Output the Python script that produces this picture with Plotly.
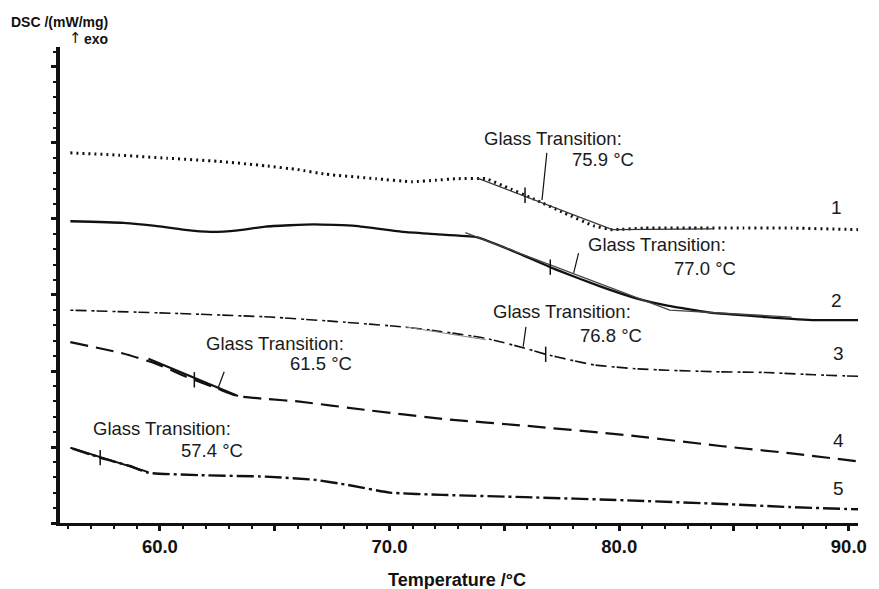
import numpy as np
import plotly.graph_objects as go

# ---------------- data ----------------
# temperature axis in degC, DSC signal in arbitrary units (1 unit = 1 major y tick)
t1 = [56.1, 58.2, 60.3, 62.5, 64.6, 66.0, 67.2, 69.4, 71.0, 72.0, 72.9, 74.2, 75.0, 76.3, 77.6, 78.9, 79.7, 81.1, 83.2, 85.4, 87.5, 90.4]
dsc1 = [4.87, 4.84, 4.80, 4.76, 4.70, 4.65, 4.59, 4.53, 4.49, 4.51, 4.53, 4.53, 4.43, 4.26, 4.08, 3.91, 3.86, 3.88, 3.88, 3.88, 3.88, 3.86]

t2 = [56.1, 58.4, 59.8, 61.0, 62.2, 63.4, 64.6, 66.7, 68.5, 70.6, 72.0, 73.8, 75.6, 77.2, 79.2, 80.7, 82.1, 84.2, 86.4, 88.5, 90.4]
dsc2 = [3.97, 3.95, 3.91, 3.86, 3.83, 3.85, 3.90, 3.93, 3.91, 3.83, 3.80, 3.76, 3.55, 3.34, 3.11, 2.96, 2.86, 2.76, 2.71, 2.67, 2.67]

t3 = [56.1, 60.5, 64.8, 67.7, 70.6, 72.0, 74.2, 75.9, 76.8, 77.8, 78.9, 80.7, 82.1, 84.2, 86.4, 88.5, 90.4]
dsc3 = [2.80, 2.76, 2.71, 2.65, 2.58, 2.53, 2.43, 2.30, 2.22, 2.15, 2.08, 2.03, 2.01, 1.99, 1.98, 1.95, 1.93]

t4 = [56.1, 58.4, 59.8, 61.1, 62.5, 63.4, 64.7, 66.0, 68.9, 72.3, 75.9, 80.2, 84.5, 87.4, 90.4]
dsc4 = [2.38, 2.23, 2.10, 1.93, 1.77, 1.67, 1.63, 1.60, 1.49, 1.37, 1.28, 1.16, 1.01, 0.92, 0.81]

t5 = [56.2, 57.5, 58.7, 59.5, 61.7, 64.6, 66.7, 68.2, 70.0, 72.3, 75.9, 80.2, 84.5, 87.4, 90.4]
dsc5 = [0.98, 0.85, 0.75, 0.66, 0.63, 0.61, 0.57, 0.50, 0.40, 0.37, 0.34, 0.30, 0.25, 0.21, 0.18]

# tangent constructions of the evaluation software
tan1_t = [73.8, 79.7, 84.1]
tan1_y = [4.54, 3.86, 3.87]
tan2_t = [73.3, 82.2, 87.5]
tan2_y = [3.82, 2.80, 2.71]
tan3_t = [70.7, 74.2]
tan3_y = [2.58, 2.41]
tan4_t = [59.5, 63.4]
tan4_y = [2.16, 1.67]
tan5_t = [56.1, 59.5]
tan5_y = [0.99, 0.67]

# glass transition temperatures
tg = [75.9, 77.0, 76.8, 61.5, 57.4]
tg_text = ["75.9 °C", "77.0 °C", "76.8 °C", "61.5 °C", "57.4 °C"]

# leader lines (label -> curve)
lead_t0 = [76.85, 78.23, 75.94, 62.80]
lead_y0 = [4.87, 3.55, 2.58, 1.99]
lead_t1 = [76.64, 78.02, 75.82, 62.54]
lead_y1 = [4.25, 3.29, 2.32, 1.78]

# label anchor positions (left edge of first / second line)
lab1_t = [74.03, 78.56, 74.40, 61.90, 57.01]
lab1_y = [5.06, 3.66, 2.78, 2.36, 1.25]
lab2_t = [77.84, 82.28, 78.19, 65.56, 60.82]
lab2_y = [4.78, 3.35, 2.47, 2.10, 0.96]

curve_names = ["1", "2", "3", "4", "5"]
curve_name_t = [89.48, 89.48, 89.56, 89.56, 89.56]
curve_name_y = [4.15, 2.93, 2.23, 1.09, 0.46]

x_tickvals = [60, 65, 70, 75, 80, 85, 90]
x_ticktext = ["60.0", "", "70.0", "", "80.0", "", "90.0"]

# ---------------- figure ----------------
FONT = "Liberation Sans, Arial, Helvetica, sans-serif"
INK = "#111111"

curves = [
    (t1, dsc1, dict(color=INK, width=3.0, dash="2px,4px")),
    (t2, dsc2, dict(color=INK, width=2.3, dash="solid")),
    (t3, dsc3, dict(color=INK, width=1.6, dash="3px,2px,11px,5px")),
    (t4, dsc4, dict(color=INK, width=2.2, dash="18px,8px")),
    (t5, dsc5, dict(color=INK, width=2.4, dash="17px,4px,3px,4px")),
]

fig = go.Figure()
for t, y, ln in curves:
    fig.add_trace(go.Scatter(x=t, y=y, mode="lines", line=dict(shape="spline", smoothing=0.4, **ln),
                             hoverinfo="skip", showlegend=False))

tangents = [(tan1_t, tan1_y, 1.3, "#333333"), (tan2_t, tan2_y, 1.3, "#444444"),
            (tan3_t, tan3_y, 1.0, "#888888"), (tan4_t, tan4_y, 2.2, INK),
            (tan5_t, tan5_y, 2.0, INK)]
for t, y, w, c in tangents:
    fig.add_trace(go.Scatter(x=t, y=y, mode="lines", line=dict(color=c, width=w),
                             hoverinfo="skip", showlegend=False))

# Tg tick marks on each curve
all_t = [t1, t2, t3, t4, t5]
all_y = [dsc1, dsc2, dsc3, dsc4, dsc5]
tg_y = [float(np.interp(tg[i], all_t[i], all_y[i])) for i in range(5)]
fig.add_trace(go.Scatter(x=tg, y=tg_y, mode="markers",
                         marker=dict(symbol="line-ns-open", size=11, color=INK,
                                     line=dict(color=INK, width=1.5)),
                         hoverinfo="skip", showlegend=False))

# leader lines
for i in range(len(lead_t0)):
    fig.add_trace(go.Scatter(x=[lead_t0[i], lead_t1[i]], y=[lead_y0[i], lead_y1[i]], mode="lines",
                             line=dict(color=INK, width=1.2), hoverinfo="skip", showlegend=False))

ann_font = dict(family=FONT, size=18.5, color="#1a1a1a")
for i in range(5):
    fig.add_annotation(x=lab1_t[i], y=lab1_y[i], text="Glass Transition:", showarrow=False,
                       xanchor="left", yanchor="middle", font=ann_font)
    fig.add_annotation(x=lab2_t[i], y=lab2_y[i], text=tg_text[i], showarrow=False,
                       xanchor="left", yanchor="middle", font=ann_font)
    fig.add_annotation(x=curve_name_t[i], y=curve_name_y[i], text=curve_names[i], showarrow=False,
                       xanchor="center", yanchor="middle", font=dict(family=FONT, size=19, color="#1a1a1a"))

# axis titles
fig.add_annotation(x=0, y=1, xref="paper", yref="paper", text="DSC /(mW/mg)", showarrow=False,
                   xanchor="left", yanchor="middle", xshift=-51, yshift=25,
                   font=dict(family=FONT, size=14, color=INK, weight="bold"))
fig.add_annotation(x=0, y=1, xref="paper", yref="paper", text="↑", showarrow=False,
                   xanchor="left", yanchor="middle", xshift=7, yshift=9,
                   font=dict(family="DejaVu Sans, sans-serif", size=15, color=INK))
fig.add_annotation(x=0, y=1, xref="paper", yref="paper", text="exo", showarrow=False,
                   xanchor="left", yanchor="middle", xshift=22, yshift=8,
                   font=dict(family=FONT, size=14, color=INK, weight="bold"))
fig.add_annotation(x=0.5, y=0, xref="paper", yref="paper", text="Temperature /°C", showarrow=False,
                   xanchor="center", yanchor="middle", xshift=-2, yshift=-57,
                   font=dict(family=FONT, size=18, color=INK, weight="bold"))

fig.update_xaxes(range=[55.65, 90.4], showgrid=False, zeroline=False,
                 showline=True, linecolor=INK, linewidth=3,
                 tickmode="array", tickvals=x_tickvals, ticktext=x_ticktext,
                 ticks="outside", ticklen=5, tickwidth=2.5, tickcolor=INK,
                 tickfont=dict(family=FONT, size=18.5, color=INK, weight="bold"),
                 minor=dict(tick0=0, dtick=1, ticks="outside", ticklen=3, tickwidth=2, tickcolor=INK, showgrid=False))
fig.update_yaxes(range=[0, 6.263], showgrid=False, zeroline=False,
                 showline=True, linecolor=INK, linewidth=3.5,
                 tick0=0, dtick=1, showticklabels=False,
                 ticks="outside", ticklen=5, tickwidth=2.5, tickcolor=INK,
                 minor=dict(tick0=0, dtick=0.2, ticks="outside", ticklen=3, tickwidth=1.8, tickcolor=INK, showgrid=False))

fig.update_layout(width=879, height=589, margin=dict(l=60, r=13, t=47, b=66),
                  plot_bgcolor="white", paper_bgcolor="white", showlegend=False)

fig.write_html("out.html")
